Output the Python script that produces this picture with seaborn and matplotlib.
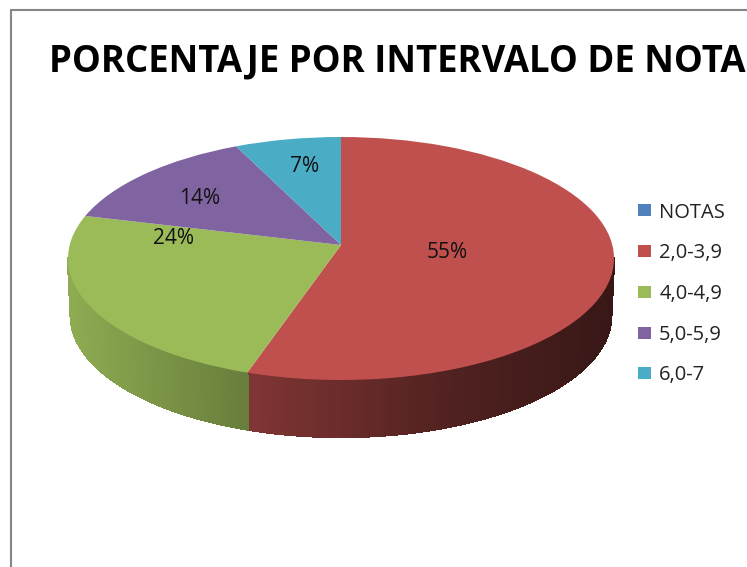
import numpy as np
import matplotlib
matplotlib.use("Agg")
import matplotlib.pyplot as plt
import seaborn as sns
from matplotlib.collections import PolyCollection
from matplotlib.lines import Line2D
from matplotlib.transforms import Transform

TITLE = "PORCENTAJE POR INTERVALO DE NOTA"
categories = ["NOTAS", "2,0-3,9", "4,0-4,9", "5,0-5,9", "6,0-7"]
values = [0, 55, 24, 14, 7]
colors = ["#4f81bd", "#c0504d", "#9bbb59", "#8064a2", "#4bacc6"]

W, H = 747, 567
CX, CY, A, B = 341.0, 258.5, 273.0, 121.5   # top ellipse, in pixels
DEPTH = 57.0 / B
TILT = 13.5 / B                             # apex sits above the ellipse centre
BOTTOM_SCALE = 0.99

sns.set_theme(style="white")
plt.rcParams["font.family"] = ["Open Sans", "DejaVu Sans"]


def tilt(u, v):
    w = 1 + TILT * v
    return u * np.sqrt(1 - TILT ** 2) / w, (v + TILT) / w


class Tilt(Transform):
    input_dims = output_dims = 2
    is_affine = False

    def transform_non_affine(self, xy):
        xy = np.asarray(xy, dtype=float)
        x, y = tilt(xy[:, 0], xy[:, 1])
        return np.column_stack([x, y])


fig = plt.figure(figsize=(W / 100, H / 100), dpi=100, facecolor="white")
ax = fig.add_axes([0, 0, 1, 1])
wedges, _ = ax.pie(values, colors=sns.color_palette(colors), startangle=90,
                   counterclock=False, radius=1.0)
ax.set_aspect("auto")
ax.set_xlim((0 - CX) / A, (W - CX) / A)
ax.set_ylim((CY - H) / B, (CY - 0) / B)

tr = Tilt() + ax.transData
for w in wedges:
    w.set_transform(tr)
    w.set_zorder(3)
    w.set_linewidth(0)

# extruded side wall, shaded from left to right
polys, fcs = [], []
for w, val, col in zip(wedges, values, colors):
    if val == 0:
        continue
    th = np.radians(np.linspace(w.theta1, w.theta2, 240))
    X, Y = tilt(np.cos(th), np.sin(th))
    base = np.array(matplotlib.colors.to_rgb(col))
    for i in range(len(th) - 1):
        if Y[i] > 0 and Y[i + 1] > 0:
            continue
        xm = (X[i] + X[i + 1]) / 2
        f = np.interp(xm, [-1, -0.34, 0.4, 1], [0.92, 0.67, 0.42, 0.29])
        polys.append([(X[i], Y[i]), (X[i + 1], Y[i + 1]),
                      (X[i + 1] * BOTTOM_SCALE, Y[i + 1] - DEPTH),
                      (X[i] * BOTTOM_SCALE, Y[i] - DEPTH)])
        fcs.append(base * f)
ax.add_collection(PolyCollection(polys, facecolors=fcs, edgecolors=fcs,
                                 linewidths=1.0, antialiaseds=False, zorder=2))

# chart-area frame, running off the canvas on the right and at the bottom
for xs, ys in (([11 / W, 11 / W], [0, 1 - 10.3 / H]),
               ([11 / W, 1], [1 - 10.3 / H, 1 - 10.3 / H])):
    fig.add_artist(Line2D(xs, ys, color="#868686", lw=1.5))

fig.text(49 / W, 1 - 61 / H, TITLE, fontsize=26.3, fontweight="bold",
         color="black", va="center", ha="left")

label_px = [(447, 252), (174, 238), (200, 199), (305, 166)]
for val, (px, py) in zip(values[1:], label_px):
    fig.text(px / W, 1 - py / H, f"{val}%", fontsize=15, color="#111111",
             ha="center", va="center", zorder=6)

ax.legend(wedges, categories, loc="center left",
          bbox_to_anchor=(638 / W, 1 - 294 / H), bbox_transform=fig.transFigure,
          frameon=False, fontsize=14.5, handlelength=0.65, handleheight=0.55,
          handletextpad=0.4, labelspacing=1.03, borderpad=0, borderaxespad=0,
          labelcolor="#222222")

fig.savefig("out.png", dpi=100)
